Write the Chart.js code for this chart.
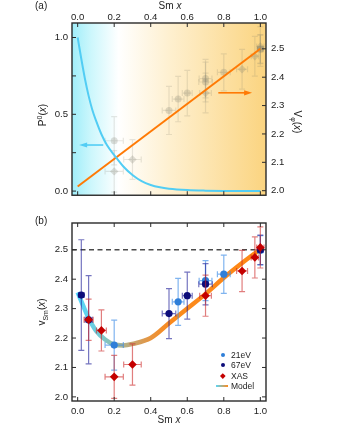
<!DOCTYPE html>
<html>
<head>
<meta charset="utf-8">
<script src="https://cdn.jsdelivr.net/npm/chart.js@4.4.1/dist/chart.umd.min.js"></script>
<style>
  html, body { margin: 0; padding: 0; background: #fff; }
  body { width: 339px; height: 425px; position: relative; overflow: hidden;
         font-family: "Liberation Sans", Arial, sans-serif; color: #222; }
  canvas { position: absolute; left: 0; }
  #chartA { top: 0; }
  #chartB { top: 206px; }
  .lbl { position: absolute; font-size: 10px; white-space: nowrap; line-height: 1; }
  .ctr { transform: translate(-50%, -50%); }
  .rotL { transform: translate(-50%, -50%) rotate(-90deg); }
  .rotR { transform: translate(-50%, -50%) rotate(90deg); }
  sub, sup { font-size: 7px; line-height: 0; }
  .leg { position: absolute; left: 216px; top: 350px; font-size: 8.5px; }
  .leg div { position: relative; height: 10.3px; line-height: 10.3px; padding-left: 15px; }
  .leg .dot { position: absolute; left: 4.5px; top: 3.2px; width: 4px; height: 4px; border-radius: 50%; }
  .leg .dia { position: absolute; left: 5px; top: 3.4px; width: 3.6px; height: 3.6px; transform: rotate(45deg); }
  .leg .bar { position: absolute; left: 0; top: 4px; width: 12px; height: 2.4px;
              background: linear-gradient(to right, #5ad6f8, #ff8a1a); }
</style>
</head>
<body>
<canvas id="chartA" width="339" height="206"></canvas>
<canvas id="chartB" width="339" height="219"></canvas>

<div class="lbl" style="left:35px; top:1px;">(a)</div>
<div class="lbl ctr" style="left:170px; top:6px;">Sm <i>x</i></div>
<div class="lbl rotL" style="left:43px; top:115px;">P<sup>0</sup>(<i>x</i>)</div>
<div class="lbl rotR" style="left:297px; top:122px;">V<sub>φ</sub>(<i>x</i>)</div>

<div class="lbl" style="left:35px; top:216px;">(b)</div>
<div class="lbl rotL" style="left:42px; top:312px;">v<sub>Sm</sub>(<i>x</i>)</div>
<div class="lbl ctr" style="left:169px; top:420px;">Sm <i>x</i></div>

<div class="leg">
  <div><span class="dot" style="background:#2f7fd8"></span>21eV</div>
  <div><span class="dot" style="background:#0c0c7a"></span>67eV</div>
  <div><span class="dia" style="background:#c40000"></span>XAS</div>
  <div><span class="bar"></span>Model</div>
</div>

<script>
// tick values
const xTicks = [0, 0.2, 0.4, 0.6, 0.8, 1.0];
const pTicks = [0, 0.25, 0.5, 0.75, 1.0];
const pTickLabels = ['0.0', '', '0.5', '', '1.0'];
const vTicks = [2.0, 2.1, 2.2, 2.3, 2.4, 2.5];

// panel (a): probability curve and V_phi line
const p0X = [0, 0.02, 0.04, 0.06, 0.08, 0.1, 0.13, 0.16, 0.2, 0.25, 0.3, 0.35, 0.4, 0.45, 0.5, 0.6, 0.7, 0.8, 0.9, 1.0];
const p0Y = [1.0, 0.86, 0.73, 0.62, 0.53, 0.46, 0.37, 0.30, 0.235, 0.16, 0.105, 0.065, 0.04, 0.025, 0.016, 0.007, 0.003, 0.001, 0.0, 0.0];
const vPhiX = [0, 1.0];
const vPhiY = [2.015, 2.5];

// panel (b): measured valence
const x21 = [0.2, 0.55, 0.7, 0.8, 1.0];
const v21 = [2.176, 2.323, 2.395, 2.417, 2.498];
const ey21 = [0.085, 0.08, 0.068, 0.065, 0.05];
const ex21 = [0.05, 0.032, 0.035, 0.035, 0.015];

const x67 = [0.02, 0.06, 0.5, 0.6, 0.7, 1.0];
const v67 = [2.346, 2.262, 2.283, 2.344, 2.383, 2.5];
const ey67 = [0.188, 0.15, 0.085, 0.08, 0.07, 0.05];
const ex67 = [0.015, 0.02, 0.037, 0.027, 0.037, 0.015];

const xXas = [0.06, 0.13, 0.2, 0.3, 0.7, 0.9, 0.97, 1.0];
const vXas = [2.262, 2.226, 2.068, 2.11, 2.344, 2.428, 2.474, 2.508];
const eyXas = [0.07, 0.07, 0.073, 0.07, 0.07, 0.07, 0.07, 0.07];
const exXas = [0.025, 0.027, 0.05, 0.048, 0.032, 0.03, 0.02, 0.02];

const modelX = [0, 0.03, 0.06, 0.1, 0.15, 0.2, 0.25, 0.3, 0.4, 0.5, 0.6, 0.7, 0.8, 0.9, 1.0];
const modelV = [2.355, 2.31, 2.268, 2.225, 2.195, 2.178, 2.175, 2.18, 2.2, 2.25, 2.3, 2.35, 2.405, 2.455, 2.502];

const refLevel = 2.5;

const xMin = -0.031, xMax = 1.031;
const cyan = '#52cdf4';
const orange = '#ff7a05';
const tickFont = { family: '"Liberation Sans", Arial, sans-serif', size: 9.6 };

const xy = (xs, ys) => xs.map((x, i) => ({ x: x, y: ys[i] }));

// keep only the points from x >= 0.15 for the faint copy in (a)
const faint = (xs, ys, ey, ex) => {
  const idx = xs.map((x, i) => i).filter(i => xs[i] >= 0.15);
  return { data: idx.map(i => ({ x: xs[i], y: ys[i] })), errY: idx.map(i => ey[i]), errX: idx.map(i => ex[i]) };
};

// error bars, drawn just under each dataset
const errorBars = {
  id: 'errorBars',
  beforeDatasetDraw(chart, args) {
    const ds = chart.data.datasets[args.index];
    if (!ds.errY) return;
    const ctx = chart.ctx;
    const xs = chart.scales.x, ys = chart.scales[ds.yAxisID || 'y'];
    const cap = 3;
    ctx.save();
    ctx.strokeStyle = ds.errColor;
    ctx.lineWidth = 1.2;
    ds.data.forEach((p, i) => {
      const px = xs.getPixelForValue(p.x), py = ys.getPixelForValue(p.y);
      const y1 = ys.getPixelForValue(p.y + ds.errY[i]), y2 = ys.getPixelForValue(p.y - ds.errY[i]);
      const x1 = xs.getPixelForValue(p.x - ds.errX[i]), x2 = xs.getPixelForValue(p.x + ds.errX[i]);
      ctx.beginPath();
      ctx.moveTo(px, y1); ctx.lineTo(px, y2);
      ctx.moveTo(px - cap, y1); ctx.lineTo(px + cap, y1);
      ctx.moveTo(px - cap, y2); ctx.lineTo(px + cap, y2);
      ctx.moveTo(x1, py); ctx.lineTo(x2, py);
      ctx.moveTo(x1, py - cap); ctx.lineTo(x1, py + cap);
      ctx.moveTo(x2, py - cap); ctx.lineTo(x2, py + cap);
      ctx.stroke();
    });
    ctx.restore();
  }
};

// frame with inward ticks on every side
const frame = {
  id: 'frame',
  afterDatasetsDraw(chart) {
    const { ctx, chartArea: a, scales } = chart;
    const L = 4;
    ctx.save();
    ctx.strokeStyle = '#2a2a2a';
    ctx.lineWidth = 1;
    ctx.beginPath();
    scales.x.ticks.forEach(t => {
      const px = scales.x.getPixelForValue(t.value);
      ctx.moveTo(px, a.top); ctx.lineTo(px, a.top + L);
      ctx.moveTo(px, a.bottom); ctx.lineTo(px, a.bottom - L);
    });
    scales.y.ticks.forEach(t => {
      const py = scales.y.getPixelForValue(t.value);
      ctx.moveTo(a.left, py); ctx.lineTo(a.left + L, py);
      if (!scales.y2) { ctx.moveTo(a.right, py); ctx.lineTo(a.right - L, py); }
    });
    if (scales.y2) {
      scales.y2.ticks.forEach(t => {
        const py = scales.y2.getPixelForValue(t.value);
        ctx.moveTo(a.right, py); ctx.lineTo(a.right - L, py);
      });
    }
    ctx.stroke();
    ctx.lineWidth = 1.4;
    ctx.strokeRect(a.left, a.top, a.right - a.left, a.bottom - a.top);
    ctx.restore();
  }
};

// cyan -> white -> orange shading of panel (a)
const shading = {
  id: 'shading',
  beforeDatasetsDraw(chart) {
    const { ctx, chartArea: a } = chart;
    const g = ctx.createLinearGradient(a.left, 0, a.right, 0);
    g.addColorStop(0, 'rgb(160,238,250)');
    g.addColorStop(0.1, 'rgb(205,247,252)');
    g.addColorStop(0.24, 'rgb(255,255,255)');
    g.addColorStop(0.5, 'rgb(254,240,208)');
    g.addColorStop(1, 'rgb(251,212,128)');
    ctx.save();
    ctx.fillStyle = g;
    ctx.fillRect(a.left, a.top, a.right - a.left, a.bottom - a.top);
    ctx.restore();
  }
};

function arrow(ctx, x1, x2, y, color) {
  const dir = Math.sign(x2 - x1);
  ctx.save();
  ctx.strokeStyle = color; ctx.fillStyle = color; ctx.lineWidth = 1.6;
  ctx.beginPath(); ctx.moveTo(x1, y); ctx.lineTo(x2 - dir * 6, y); ctx.stroke();
  ctx.beginPath();
  ctx.moveTo(x2, y); ctx.lineTo(x2 - dir * 8, y - 2.6); ctx.lineTo(x2 - dir * 8, y + 2.6);
  ctx.closePath(); ctx.fill();
  ctx.restore();
}

const arrows = {
  id: 'arrows',
  afterDatasetsDraw(chart) {
    const { ctx, scales } = chart;
    const xs = scales.x;
    arrow(ctx, xs.getPixelForValue(0.14), xs.getPixelForValue(0.008), scales.y.getPixelForValue(0.3), cyan);
    arrow(ctx, xs.getPixelForValue(0.77), xs.getPixelForValue(0.955), scales.y2.getPixelForValue(2.345), orange);
  }
};

const fixedTicks = vals => s => { s.ticks = vals.map(v => ({ value: v })); };
const tickOpts = extra => Object.assign({ font: tickFont, color: '#222', autoSkip: false, maxRotation: 0 }, extra);
const noGrid = { display: false, drawTicks: false, tickLength: 0 };

const fA = {
  c21: faint(x21, v21, ey21, ex21),
  c67: faint(x67, v67, ey67, ex67),
  cX: faint(xXas, vXas, eyXas, exXas)
};
const faintPt = 'rgba(120,120,105,0.24)';
const faintErr = 'rgba(120,120,105,0.18)';

new Chart(document.getElementById('chartA'), {
  type: 'scatter',
  data: {
    datasets: [
      { data: xy(p0X, p0Y), yAxisID: 'y', showLine: true, pointRadius: 0, borderColor: cyan, borderWidth: 2, cubicInterpolationMode: 'monotone' },
      { data: xy(vPhiX, vPhiY), yAxisID: 'y2', showLine: true, pointRadius: 0, borderColor: orange, borderWidth: 2 },
      { data: fA.cX.data, errY: fA.cX.errY, errX: fA.cX.errX, errColor: faintErr, yAxisID: 'y2', pointStyle: 'rectRot', pointRadius: 4.2, backgroundColor: faintPt, borderWidth: 0 },
      { data: fA.c67.data, errY: fA.c67.errY, errX: fA.c67.errX, errColor: faintErr, yAxisID: 'y2', pointRadius: 3.5, backgroundColor: faintPt, borderWidth: 0 },
      { data: fA.c21.data, errY: fA.c21.errY, errX: fA.c21.errX, errColor: faintErr, yAxisID: 'y2', pointRadius: 3.5, backgroundColor: faintPt, borderWidth: 0 }
    ]
  },
  options: {
    responsive: false,
    animation: false,
    events: [],
    layout: { padding: { top: 0, bottom: 5, left: 0, right: 0 } },
    plugins: { legend: { display: false }, tooltip: { enabled: false } },
    scales: {
      x: {
        type: 'linear', position: 'top', min: xMin, max: xMax,
        grid: noGrid, border: { display: false },
        afterBuildTicks: fixedTicks(xTicks),
        ticks: tickOpts({ padding: 0, callback: v => v.toFixed(1) }),
        afterFit: s => { s.height = 23; }
      },
      y: {
        type: 'linear', position: 'left', min: -0.027, max: 1.0945,
        grid: noGrid, border: { display: false },
        afterBuildTicks: fixedTicks(pTicks),
        ticks: tickOpts({ padding: 4, callback: (v, i) => pTickLabels[i] }),
        afterFit: s => { s.width = 72; }
      },
      y2: {
        type: 'linear', position: 'right', min: 1.984, max: 2.591,
        grid: noGrid, border: { display: false },
        afterBuildTicks: fixedTicks(vTicks),
        ticks: tickOpts({ padding: 5, callback: v => v.toFixed(1) }),
        afterFit: s => { s.width = 73; }
      }
    }
  },
  plugins: [shading, errorBars, frame, arrows]
});

// model colour follows the x axis: cyan at low Sm content, orange at high
function modelGradient(c) {
  const ch = c.chart;
  if (!ch.chartArea) return orange;
  const xs = ch.scales.x;
  const g = ch.ctx.createLinearGradient(xs.getPixelForValue(0), 0, xs.getPixelForValue(1), 0);
  g.addColorStop(0, 'rgb(85,216,252)');
  g.addColorStop(0.1, 'rgb(110,205,220)');
  g.addColorStop(0.2, 'rgb(150,190,170)');
  g.addColorStop(0.3, 'rgb(198,165,110)');
  g.addColorStop(0.4, 'rgb(232,148,62)');
  g.addColorStop(0.5, 'rgb(250,138,30)');
  g.addColorStop(1, 'rgb(255,135,20)');
  return g;
}

new Chart(document.getElementById('chartB'), {
  type: 'scatter',
  data: {
    datasets: [
      { data: xy(xXas, vXas), errY: eyXas, errX: exXas, errColor: 'rgba(205,40,40,0.6)', pointStyle: 'rectRot', pointRadius: 4.3, backgroundColor: '#c40000', borderWidth: 0 },
      { data: xy(x67, v67), errY: ey67, errX: ex67, errColor: 'rgba(25,25,150,0.6)', pointRadius: 3.6, backgroundColor: '#0c0c7a', borderWidth: 0 },
      { data: xy(x21, v21), errY: ey21, errX: ex21, errColor: 'rgba(60,140,230,0.65)', pointRadius: 3.6, backgroundColor: '#2f7fd8', borderWidth: 0 },
      { data: xy(modelX, modelV), showLine: true, pointRadius: 0, borderWidth: 4.5, borderColor: modelGradient, cubicInterpolationMode: 'monotone' },
      { data: xy([xMin, xMax], [refLevel, refLevel]), showLine: true, pointRadius: 0, borderWidth: 1.3, borderColor: '#4a4a4a', borderDash: [5, 3.5] }
    ]
  },
  options: {
    responsive: false,
    animation: false,
    events: [],
    layout: { padding: { top: 17, bottom: 0, left: 0, right: 73 } },
    plugins: { legend: { display: false }, tooltip: { enabled: false } },
    scales: {
      x: {
        type: 'linear', position: 'bottom', min: xMin, max: xMax,
        grid: noGrid, border: { display: false },
        afterBuildTicks: fixedTicks(xTicks),
        ticks: tickOpts({ padding: 4.5, callback: v => v.toFixed(1) }),
        afterFit: s => { s.height = 24; }
      },
      y: {
        type: 'linear', position: 'left', min: 1.986, max: 2.591,
        grid: noGrid, border: { display: false },
        afterBuildTicks: fixedTicks(vTicks),
        ticks: tickOpts({ padding: 4, callback: v => v.toFixed(1) }),
        afterFit: s => { s.width = 72; }
      }
    }
  },
  plugins: [errorBars, frame]
});
</script>
</body>
</html>
